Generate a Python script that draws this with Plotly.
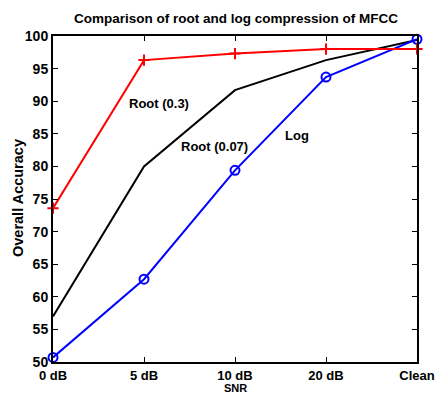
import plotly.graph_objects as go

categories = ["0 dB", "5 dB", "10 dB", "20 dB", "Clean"]
root03 = [73.6, 96.3, 97.3, 98.0, 98.0]
root007 = [57.0, 80.0, 91.7, 96.3, 99.4]
log_vals = [50.7, 62.7, 79.4, 93.7, 99.5]
yticks = [50, 55, 60, 65, 70, 75, 80, 85, 90, 95, 100]

xs = list(range(len(categories)))
fig = go.Figure()
fig.add_trace(go.Scatter(x=xs, y=root007, mode="lines", line=dict(color="black", width=2), cliponaxis=False))
fig.add_trace(go.Scatter(x=xs, y=log_vals, mode="lines+markers", line=dict(color="blue", width=2),
                         marker=dict(symbol="circle-open", size=9, color="blue", line=dict(width=2)), cliponaxis=False))
fig.add_trace(go.Scatter(x=xs, y=root03, mode="lines+markers", line=dict(color="red", width=2),
                         marker=dict(symbol="cross-thin-open", size=8, color="red", line=dict(width=2, color="red")), cliponaxis=False))

fam = "Liberation Sans, Arial, sans-serif"
W, H = 435, 395
fig.update_layout(
    width=W, height=H, showlegend=False,
    paper_bgcolor="white", plot_bgcolor="white",
    margin=dict(l=53, r=18, t=36, b=33, autoexpand=False),
    font=dict(family=fam, size=14, color="black", weight="bold"),
    title=dict(text="Comparison of root and log compression of MFCC", x=236/W, xanchor="center",
               y=1 - 18/H, yanchor="middle", font=dict(size=13.5, family=fam, weight="bold", color="black")),
    xaxis=dict(range=[0, 4], tickvals=xs, ticktext=categories, showgrid=False, zeroline=False,
               automargin=False, ticklabeloverflow="allow", ticklabelstandoff=0,
               showline=True, linecolor="black", linewidth=2, mirror="ticks", ticks="inside", ticklen=5,
               tickcolor="black", tickfont=dict(size=13, weight="bold")),
    yaxis=dict(range=[50, 100], tickvals=yticks, showgrid=False, zeroline=False,
               automargin=False, ticklabeloverflow="allow",
               showline=True, linecolor="black", linewidth=2, mirror="ticks", ticks="inside", ticklen=5,
               tickcolor="black", tickfont=dict(size=14, weight="bold")),
    annotations=[
        dict(x=1.165, y=89.6, text="Root (0.3)", showarrow=False, font=dict(size=13, weight="bold")),
        dict(x=1.77, y=83.0, text="Root (0.07)", showarrow=False, font=dict(size=13, weight="bold")),
        dict(x=2.68, y=84.8, text="Log", showarrow=False, font=dict(size=13, weight="bold")),
        dict(xref="paper", yref="paper", x=(235-53)/364, y=-(395-362)/326, xanchor="center", yanchor="bottom",
             borderpad=0, text="SNR", showarrow=False, font=dict(size=11, weight="bold")),
        dict(xref="paper", yref="paper", x=-(53-18)/364, y=(362-198)/326, xanchor="center", yanchor="middle",
             text="Overall Accuracy", textangle=-90, showarrow=False, font=dict(size=14.5, weight="bold")),
    ],
)
fig.write_html("out.html")
